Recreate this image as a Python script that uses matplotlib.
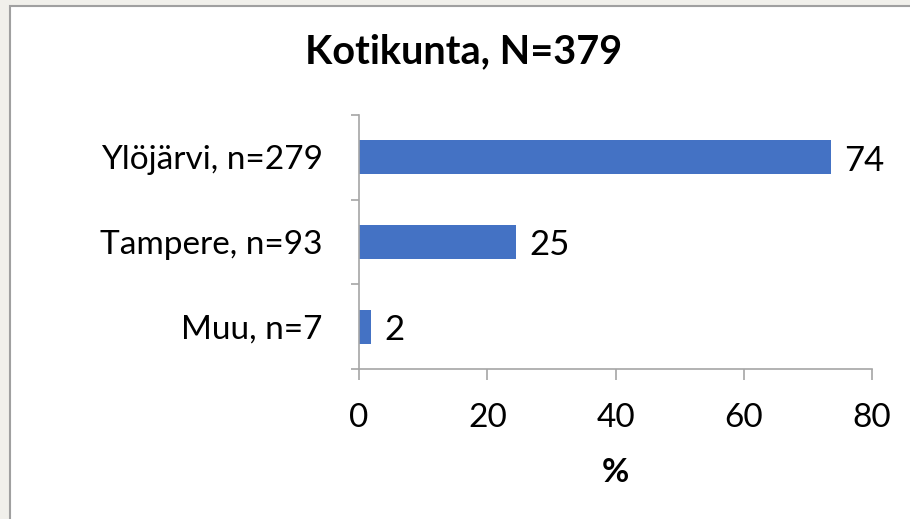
import matplotlib
matplotlib.use("Agg")
import matplotlib.pyplot as plt
from matplotlib.patches import Rectangle

categories = ["Ylöjärvi, n=279", "Tampere, n=93", "Muu, n=7"]
values = [73.6, 24.5, 1.8]
labels = ["74", "25", "2"]
xticks = [0, 20, 40, 60, 80]

plt.rcParams['font.family'] = ['Lato', 'DejaVu Sans']

W, H = 910, 519
FS = 24
fig = plt.figure(figsize=(W/100, H/100), dpi=100)
fig.patch.set_facecolor('#F1F0EB')
bg = Rectangle((10/W, -0.1), 1.0, 1.1 - 6/H, transform=fig.transFigure,
               facecolor='white', edgecolor='#A0A0A0', linewidth=1.5, zorder=-10)
fig.patches.append(bg)

ax = fig.add_axes([359/W, 1 - 369/H, (872-359)/W, (369-115)/H])
ax.set_zorder(5)
ax.set_facecolor('none')
ypos = list(range(len(categories)))[::-1]
ax.barh(ypos, values, height=0.4, color='#4472C4')
for y, v, l in zip(ypos, values, labels):
    ax.text(v + 2.1, y - 0.04, l, va='center', ha='left', fontsize=FS + 1, color='black')

ax.set_xlim(0, 80)
ax.set_ylim(-0.5, 2.5)
ax.set_xticks(xticks)
ax.set_xticklabels([str(t) for t in xticks], fontsize=FS)
ax.set_yticks([-0.5, 0.5, 1.5, 2.5], minor=False)
ax.set_yticklabels([])
ax.set_yticks(ypos, minor=True)
ax.set_yticklabels(categories, minor=True, fontsize=FS)
ax.tick_params(axis='y', which='minor', length=0, pad=26)
ax.tick_params(axis='y', which='major', length=6, color='#A6A6A6', width=1.2)
ax.tick_params(axis='x', length=8, color='#A6A6A6', width=1.2, pad=16.5, direction='out')
for s in ['top', 'right']:
    ax.spines[s].set_visible(False)
for s in ['left', 'bottom']:
    ax.spines[s].set_color('#A6A6A6')
    ax.spines[s].set_linewidth(1.2)
ax.set_xlabel('%', fontsize=FS, fontweight='bold', labelpad=18)

fig.text(464/W, 1 - 52/H, 'Kotikunta, N=379', ha='center', va='center',
         fontsize=28.5, fontweight='bold')

fig.savefig('out.png', dpi=100, facecolor=fig.get_facecolor())
